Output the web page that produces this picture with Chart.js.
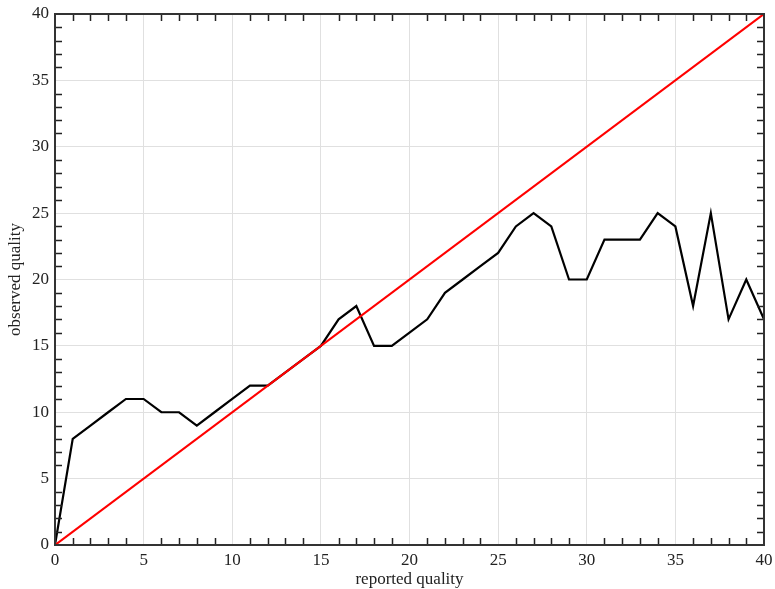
<!DOCTYPE html>
<html>
<head>
<meta charset="utf-8">
<script src="https://cdn.jsdelivr.net/npm/chart.js@4/dist/chart.umd.min.js"></script>
<style>
  html, body { margin: 0; padding: 0; background: #fff; }
  #wrap { width: 775px; height: 589px; }
</style>
</head>
<body>
<div id="wrap"><canvas id="c" width="775" height="589"></canvas></div>
<script>
// reported quality scores (x) and the observed quality for each one
const reportedQuality = [0,1,2,3,4,5,6,7,8,9,10,11,12,13,14,15,16,17,18,19,20,
  21,22,23,24,25,26,27,28,29,30,31,32,33,34,35,36,37,38,39,40];
const observedQuality = [0,8,9,10,11,11,10,10,9,10,11,12,12,13,14,15,17,18,15,15,16,
  17,19,20,21,22,24,25,24,20,20,23,23,23,25,24,18,25,17,20,17];
// ideal calibration: observed == reported
const idealLine = [0, 40];
const axisTicks = [0, 5, 10, 15, 20, 25, 30, 35, 40];

const serif = "'Liberation Serif', 'DejaVu Serif', serif";

// frame around the plot area plus small inward minor ticks on all four sides
const framePlugin = {
  id: 'frame',
  afterDatasetsDraw(chart) {
    const { ctx, chartArea: a, scales } = chart;
    const xs = scales.x, ys = scales.y;
    ctx.save();
    ctx.strokeStyle = '#222';
    ctx.lineWidth = 1.5;
    const len = 7;
    ctx.beginPath();
    for (let v = 0; v <= 40; v++) {
      if (v % 5 === 0) continue;
      const px = Math.round(xs.getPixelForValue(v)) + 0.5;
      ctx.moveTo(px, a.bottom); ctx.lineTo(px, a.bottom - len);
      ctx.moveTo(px, a.top); ctx.lineTo(px, a.top + len);
      const py = Math.round(ys.getPixelForValue(v)) + 0.5;
      ctx.moveTo(a.left, py); ctx.lineTo(a.left + len, py);
      ctx.moveTo(a.right, py); ctx.lineTo(a.right - len, py);
    }
    ctx.stroke();
    ctx.lineWidth = 2;
    ctx.strokeStyle = '#333';
    ctx.strokeRect(a.left, a.top, a.right - a.left, a.bottom - a.top);
    ctx.restore();
  }
};

// fixed axis sizes; edge labels may overhang the plot without shrinking it
function fixAxis(size) {
  return s => {
    if (s.isHorizontal()) s.height = size; else s.width = size;
    s.paddingLeft = 0; s.paddingRight = 0; s.paddingTop = 0; s.paddingBottom = 0;
  };
}

new Chart(document.getElementById('c'), {
  type: 'line',
  data: {
    datasets: [
      {
        label: 'observed',
        data: reportedQuality.map((x, i) => ({ x, y: observedQuality[i] })),
        borderColor: '#000',
        borderWidth: 2.2,
        pointRadius: 0,
        tension: 0,
        order: 2
      },
      {
        label: 'ideal',
        data: idealLine.map(v => ({ x: v, y: v })),
        borderColor: '#ff0000',
        borderWidth: 2.2,
        pointRadius: 0,
        tension: 0,
        order: 1
      }
    ]
  },
  options: {
    responsive: false,
    animation: false,
    layout: { autoPadding: false, padding: { top: 14, right: 11, left: 0, bottom: 0 } },
    plugins: { legend: { display: false }, tooltip: { enabled: false } },
    scales: {
      x: {
        type: 'linear',
        min: 0, max: 40,
        afterBuildTicks(s) { s.ticks = axisTicks.map(v => ({ value: v })); },
        afterFit: fixAxis(44),
        grid: { color: '#e0e0e0', lineWidth: 1, drawTicks: false },
        border: { display: false },
        ticks: { color: '#222', padding: 5, maxRotation: 0, autoSkip: false,
                 font: { family: serif, size: 17 } },
        title: { display: true, text: 'reported quality', color: '#222',
                 padding: { top: 0, bottom: -1 }, font: { family: serif, size: 17 } }
      },
      y: {
        type: 'linear',
        min: 0, max: 40,
        afterBuildTicks(s) { s.ticks = axisTicks.map(v => ({ value: v })); },
        afterFit: fixAxis(55),
        grid: { color: '#e0e0e0', lineWidth: 1, drawTicks: false },
        border: { display: false },
        ticks: { color: '#222', padding: 6, autoSkip: false,
                 font: { family: serif, size: 17 } },
        title: { display: true, text: 'observed quality', color: '#222',
                 padding: { top: 5, bottom: 0 }, font: { family: serif, size: 17 } }
      }
    }
  },
  plugins: [framePlugin]
});
</script>
</body>
</html>
